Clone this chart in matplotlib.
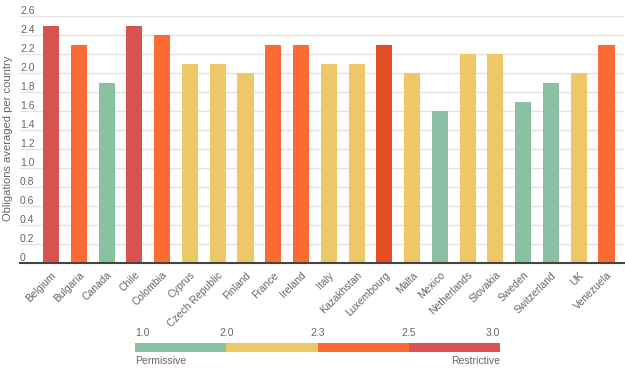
import matplotlib
matplotlib.use("Agg")
import matplotlib.pyplot as plt
from matplotlib.patches import Rectangle

countries = ["Belgium", "Bulgaria", "Canada", "Chile", "Colombia", "Cyprus",
             "Czech Republic", "Finland", "France", "Ireland", "Italy",
             "Kazakhstan", "Luxembourg", "Malta", "Mexico", "Netherlands",
             "Slovakia", "Sweden", "Switzerland", "UK", "Venezuela"]
values = [2.5, 2.3, 1.9, 2.5, 2.4, 2.1, 2.1, 2.0, 2.3, 2.3, 2.1, 2.1, 2.3,
          2.0, 1.6, 2.2, 2.2, 1.7, 1.9, 2.0, 2.3]
categories = ["red", "orange", "green", "red", "orange", "yellow", "yellow",
              "yellow", "orange", "orange", "yellow", "yellow", "darkorange",
              "yellow", "green", "yellow", "yellow", "green", "green",
              "yellow", "orange"]
yticks = [0, 0.2, 0.4, 0.6, 0.8, 1.0, 1.2, 1.4, 1.6, 1.8, 2.0, 2.2, 2.4, 2.6]
legend_breaks = ["1.0", "2.0", "2.3", "2.5", "3.0"]
legend_colors = ["#8cc0a2", "#eec866", "#fd6a33", "#d95252"]

palette = {"red": "#d95252", "orange": "#fd6a33", "green": "#8cc0a2",
           "yellow": "#eec866", "darkorange": "#e34f25"}

plt.rcParams["font.family"] = ["Liberation Sans", "DejaVu Sans"]
fig = plt.figure(figsize=(6.25, 3.73), dpi=100)
W, H = 625, 373
ax = fig.add_axes([20 / W, 1 - 263 / H, 604 / W, (263 - 16) / H])

x = list(range(len(countries)))
ax.bar(x, values, width=0.58, color=[palette[c] for c in categories], zorder=2)
ax.set_xlim(-1.12, 20.63)
ax.set_ylim(0, 2.6)

for t in yticks:
    ax.axhline(t, color="#e2e2e2", lw=1, zorder=1)
    lab = "0" if t == 0 else f"{t:.1f}"
    ax.text(0.0, t, lab, transform=ax.get_yaxis_transform(), ha="left",
            va="bottom", fontsize=7.5, color="#666666", clip_on=False)
ax.set_yticks([])

ax.set_xticks(x)
ax.set_xticklabels(countries, rotation=45, ha="right", rotation_mode="anchor",
                   fontsize=7.5, color="#666666")
ax.tick_params(axis="x", length=0, pad=5)

for s in ["top", "right", "left"]:
    ax.spines[s].set_visible(False)
ax.spines["bottom"].set_color("#444444")
ax.spines["bottom"].set_linewidth(1.5)
ax.spines["bottom"].set_zorder(3)

fig.text(8 / W, 1 - 138 / H, "Obligations averaged per country", rotation=90,
         ha="center", va="center", fontsize=8, color="#666666")

# legend color bar
lax = fig.add_axes([135 / W, 1 - 352 / H, 365 / W, 9 / H])
lax.set_xlim(0, len(legend_colors))
lax.set_ylim(0, 1)
for i, c in enumerate(legend_colors):
    lax.add_patch(Rectangle((i, 0), 1, 1, color=c, lw=0))
lax.axis("off")
for i, b in enumerate(legend_breaks):
    ha = "left" if i == 0 else ("right" if i == len(legend_breaks) - 1 else "center")
    lax.text(i, 1.6, b, ha=ha, va="bottom", fontsize=7.5, color="#666666")
lax.text(0, -0.4, "Permissive", ha="left", va="top", fontsize=7.5, color="#666666")
lax.text(len(legend_colors), -0.4, "Restrictive", ha="right", va="top",
         fontsize=7.5, color="#666666")

fig.savefig("out.png", dpi=100)
